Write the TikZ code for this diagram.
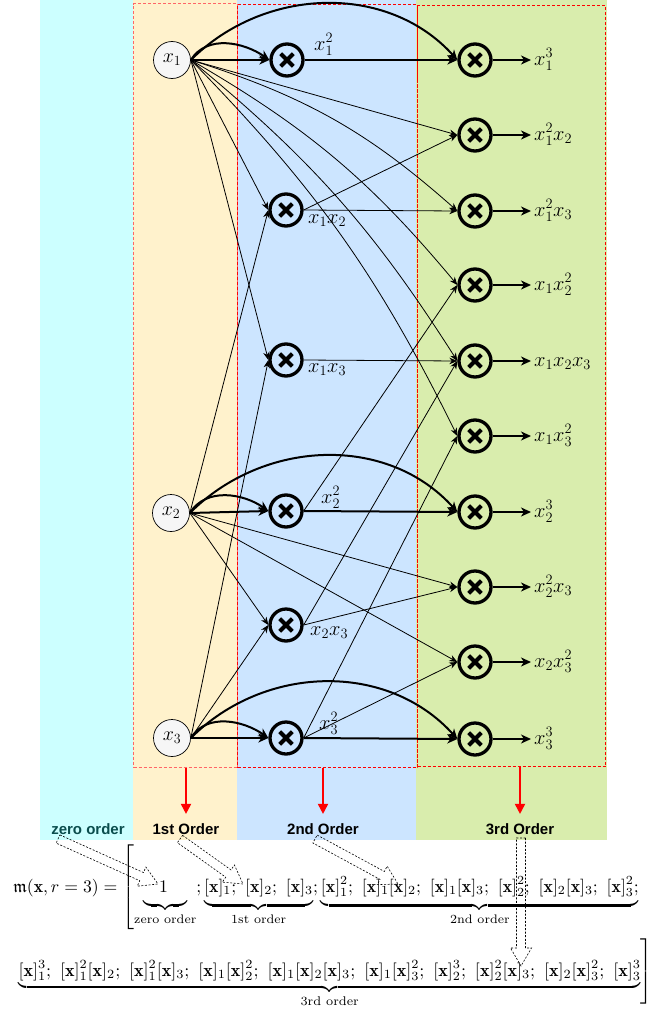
\RequirePackage{fix-cm}
\documentclass[tikz,border=0pt]{standalone}
\usepackage{amsmath,amssymb}
\usepackage{fontspec}
\newfontfamily\lsans{Liberation Sans}
\usetikzlibrary{arrows.meta,calc}
\definecolor{bgcyan}{HTML}{CCFFFF}
\definecolor{bgcream}{HTML}{FFF2CC}
\definecolor{bgblue}{HTML}{CCE5FF}
\definecolor{bggreen}{HTML}{D9EDAD}
\definecolor{zerotxt}{HTML}{0A4D4D}
\newcommand{\xb}{[\mathbf{x}]}
\newcommand{\dpstrut}{\vrule depth 4pt height 0pt width 0pt}
\newcommand{\flexarr}[2]{%
  \path ($(#2)!18pt!(#1)$) coordinate (fh);
  \draw[flexa] ($(#1)!4.5pt!90:(#2)$) -- ($(fh)!4.5pt!90:(#2)$) -- ($(fh)!10.5pt!90:(#2)$) -- (#2)
     -- ($(fh)!10.5pt!-90:(#2)$) -- ($(fh)!4.5pt!-90:(#2)$) -- ($(#1)!4.5pt!-90:(#2)$) -- cycle;}
\begin{document}
\begin{tikzpicture}[x=1pt,y=1pt,
  inp/.style={circle,draw=black,line width=0.7pt,fill=gray!7,minimum size=37pt,inner sep=0pt,font=\fontsize{20}{24}\selectfont},
  mul/.style={circle,draw=black,line width=3.3pt,minimum size=32pt,inner sep=0pt,
    path picture={\draw[line width=4pt] ($(path picture bounding box.center)+(-6.3,-6.3)$) -- ($(path picture bounding box.center)+(6.3,6.3)$)
      ($(path picture bounding box.center)+(-6.3,6.3)$) -- ($(path picture bounding box.center)+(6.3,-6.3)$);}},
  thn/.style={line width=0.8pt,-{Stealth[length=8pt,width=6.5pt,inset=2.5pt]}},
  thk/.style={line width=2pt,-{Stealth[length=10pt,width=9pt,inset=3pt]}},
  mlab/.style={font=\fontsize{20.5}{24}\selectfont,inner sep=0pt,anchor=base west},
  orderbox/.style={draw=red,dashed,dash pattern=on 3pt off 2pt,line width=1pt,minimum width=#1,inner sep=0pt,anchor=north west},
  olab/.style={font=\lsans\bfseries\fontsize{15}{18}\selectfont,inner sep=4pt,anchor=base},
  redarr/.style={draw=red,line width=1.8pt,-{Triangle[length=10pt,width=10pt]},shorten >=5pt},
  formula/.style={scale=#1,inner sep=0pt,anchor=base west},
  flexa/.style={draw=black,line width=0.6pt,dash pattern=on 2pt off 1.6pt,line join=miter}
]
\useasboundingbox (0,0) rectangle (650,-1009);
% background strips
\fill[bgcyan] (40,0) rectangle (133,-840);
\fill[bgcream] (133,0) rectangle (237,-840);
\fill[bgblue] (237,0) rectangle (416,-840);
\fill[bggreen] (416,0) rectangle (607,-840);
% dashed order boxes
\node[orderbox=104pt,minimum height=764pt,draw=red!60] (box1) at (133,-3) {};
\node[orderbox=180pt,minimum height=763pt] (box2) at (237,-4) {};
\node[orderbox=188pt,minimum height=761pt] (box3) at (417,-5) {};
% inputs
\node[inp] (a1) at (172,-60) {$x_1$};
\node[inp] (a2) at (171,-513) {$x_2$};
\node[inp] (a3) at (172,-738) {$x_3$};
% second order
\node[mul] (s11) at (287,-60) {};
\node[mul] (s12) at (286,-210) {};
\node[mul] (s13) at (286,-360) {};
\node[mul] (s22) at (286,-511) {};
\node[mul] (s23) at (286,-625) {};
\node[mul] (s33) at (286,-738) {};
% third order
\foreach \n/\yy in {111/60,112/135,113/211,122/285,123/361,133/436,222/512,223/587,233/662,333/739}
  \node[mul] (c\n) at (475,-\yy) {};
% second-order labels
\node[mlab] (l11) at (314,-50) {$x_1^2$};
\node[mlab] (l12) at (308,-223) {$x_1x_2$};
\node[mlab] (l13) at (308,-372) {$x_1x_3$};
\node[mlab] (l22) at (321,-503) {$x_2^2$};
\node[mlab] (l23) at (310,-635) {$x_2x_3$};
\node[mlab] (l33) at (319,-729) {$x_3^2$};
% output labels
\node[mlab] (o111) at (534,-65) {$x_1^3$};
\node[mlab] (o112) at (534,-140) {$x_1^2x_2$};
\node[mlab] (o113) at (534,-216) {$x_1^2x_3$};
\node[mlab] (o122) at (534,-290) {$x_1x_2^2$};
\node[mlab] (o123) at (534,-366) {$x_1x_2x_3$};
\node[mlab] (o133) at (534,-441) {$x_1x_3^2$};
\node[mlab] (o222) at (534,-517) {$x_2^3$};
\node[mlab] (o223) at (534,-592) {$x_2^2x_3$};
\node[mlab] (o233) at (534,-667) {$x_2x_3^2$};
\node[mlab] (o333) at (534,-744) {$x_3^3$};
\foreach \n in {111,112,113,122,123,133,222,223,233,333}
  \draw[thk,shorten >=3pt] (c\n.east) -- (c\n.east -| o\n.west);
% thick connectors (powers)
\foreach \i in {1,2,3}{
  \draw[thk] (a\i.east) -- (s\i\i.west);
  \draw[thk] (a\i.east) to[out=58,in=145] (s\i\i.west);
  \draw[thk] (a\i.east) to[out=45,in=132] (c\i\i\i.west);
  \draw[thk] (s\i\i.east) -- (c\i\i\i.west);
}
% thin connectors
\draw[thn] (a1.east) -- (s12.west);
\draw[thn] (a1.east) -- (s13.west);
\draw[thn] (a2.east) -- (s12.west);
\draw[thn] (a2.east) -- (s23.west);
\draw[thn] (a3.east) -- (s13.west);
\draw[thn] (a3.east) -- (s23.west);
\draw[thn] (a1.east) -- (c112.west);
\draw[thn] (a1.east) to[bend left=12] (c113.west);
\draw[thn] (a1.east) to[bend left=10] (c122.west);
\draw[thn] (a1.east) to[bend left=9] (c123.west);
\draw[thn] (a1.east) to[bend left=9] (c133.west);
\draw[thn] (s12.east) -- (c112.west);
\draw[thn] (s12.east) -- (c113.west);
\draw[thn] (s13.east) -- (c123.west);
\draw[thn] (s22.east) -- (c122.west);
\draw[thn] (s23.east) -- (c123.west);
\draw[thn] (s23.east) -- (c223.west);
\draw[thn] (s33.east) -- (c133.west);
\draw[thn] (s33.east) -- (c233.west);
\draw[thn] (a2.east) -- (c223.west);
\draw[thn] (a2.east) -- (c233.west);
% order labels
\node[olab,text=zerotxt] (lab0) at (88,-834) {zero order};
\node[olab] (lab1) at (186,-834) {1st Order};
\node[olab] (lab2) at (323,-834) {2nd Order};
\node[olab] (lab3) at (520,-834) {3rd Order};
\draw[redarr] (lab1 |- box1.south) -- (lab1.north);
\draw[redarr] (lab2 |- box2.south) -- (lab2.north);
\draw[redarr] (lab3 |- box3.south) -- (lab3.north);
% formula
\node[formula=1.77] (f1) at (13,-892) {$\displaystyle \mathfrak{m}(\mathbf{x},r=3)=\left[\vrule height 27pt depth 23pt width 0pt\underbrace{\hskip9pt1\hskip11pt\dpstrut}_{\text{zero order}};\underbrace{\xb_1;\ \xb_2;\ \xb_3\dpstrut}_{\text{1st order}};\underbrace{\xb_1^2;\ \xb_1\xb_2;\ \xb_1\xb_3;\ \xb_2^2;\ \xb_2\xb_3;\ \xb_3^2;\dpstrut}_{\text{2nd order}}\right.$};
\node[formula=1.8] (f2) at (16,-976) {$\displaystyle \left.\underbrace{\xb_1^3;\ \xb_1^2\xb_2;\ \xb_1^2\xb_3;\ \xb_1\xb_2^2;\ \xb_1\xb_2\xb_3;\ \xb_1\xb_3^2;\ \xb_2^3;\ \xb_2^2\xb_3;\ \xb_2\xb_3^2;\ \xb_3^3}_{\text{3rd order}}\right]$};
% dashed hollow arrows
\coordinate (z0s) at (58,-839);
\coordinate (z0e) at (158,-884);
\coordinate (z1s) at (180,-839);
\coordinate (z1e) at (243,-884);
\coordinate (z2s) at (315,-839);
\coordinate (z2e) at (398,-884);
\coordinate (z3s) at (521,-838);
\coordinate (z3e) at (521,-966);
\flexarr{z0s}{z0e}
\flexarr{z1s}{z1e}
\flexarr{z2s}{z2e}
\flexarr{z3s}{z3e}
\end{tikzpicture}
\end{document}
